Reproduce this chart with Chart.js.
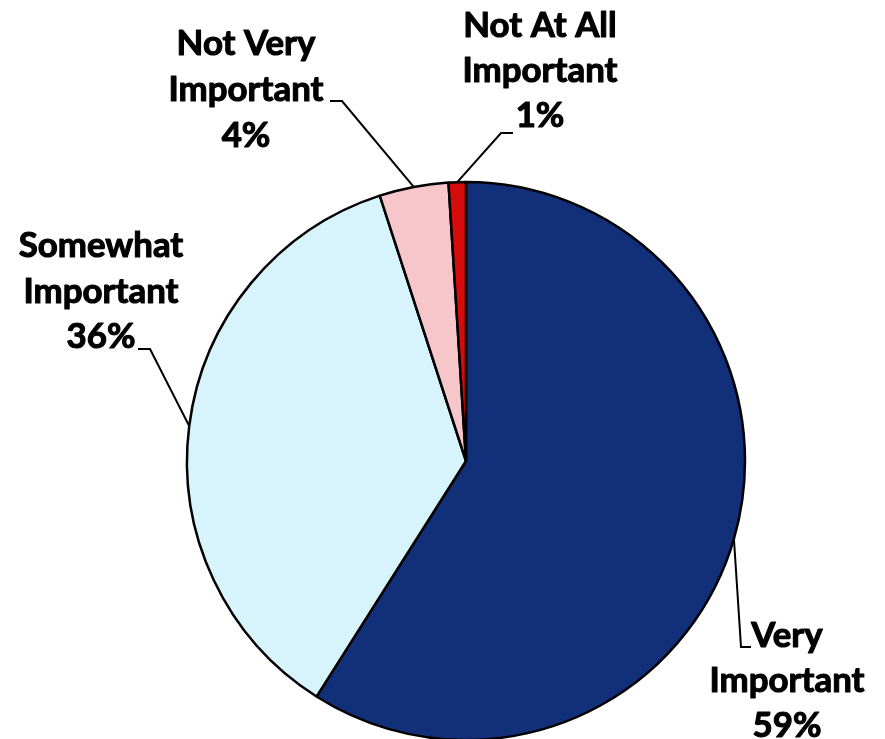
<!DOCTYPE html>
<html>
<head>
<meta charset="utf-8">
<script src="https://cdn.jsdelivr.net/npm/chart.js@4/dist/chart.umd.min.js"></script>
<style>
  html, body { margin: 0; padding: 0; background: #ffffff; }
  #wrap { width: 885px; height: 739px; position: relative; }
</style>
</head>
<body>
<div id="wrap"><canvas id="c" width="885" height="739"></canvas></div>
<script>
// ---- data ----
const categories = ['Very Important', 'Somewhat Important', 'Not Very Important', 'Not At All Important'];
const labelLines = [['Very', 'Important'], ['Somewhat', 'Important'], ['Not Very', 'Important'], ['Not At All', 'Important']];
const values = [59, 36, 4, 1];

// ---- styles ----
const sliceColors = [
  ['#1c3f8e', '#12307a', '#0a2156'],
  ['#e8fafe', '#d7f4fc', '#c3ebf6'],
  ['#fcdde0', '#f7c6cb', '#eeb3b9'],
  ['#e81a1a', '#d60b0b', '#a80606']
];
// label layout: center x of text, first baseline, elbow point, end of leader
const labelLayout = [
  { cx: 787, y0: 647, lh: 45, elbow: [741, 647], end: [751, 647] },
  { cx: 101, y0: 257, lh: 45.5, elbow: [150, 349], end: [138, 349] },
  { cx: 246, y0: 55, lh: 46, elbow: [342, 101], end: [330, 101] },
  { cx: 540, y0: 37, lh: 45, elbow: [501, 133], end: [513, 133] }
];
const FONT_FAMILY = 'Lato, "Open Sans", "DejaVu Sans", sans-serif';
const FONT_WEIGHT = 'bold';

function fontSizeFor(ctx) {
  ctx.save();
  ctx.font = FONT_WEIGHT + ' 100px ' + FONT_FAMILY;
  const w = ctx.measureText('Important').width;
  ctx.restore();
  return 100 * 155 / w;
}

function sliceFill(context) {
  const i = context.dataIndex;
  const chart = context.chart;
  const area = chart.chartArea;
  const cols = sliceColors[i];
  if (!area) return cols[1];
  const meta = chart.getDatasetMeta(0);
  const arc = meta.data[i];
  if (!arc || !arc.outerRadius) return cols[1];
  const g = chart.ctx.createRadialGradient(arc.x, arc.y, 0, arc.x, arc.y, arc.outerRadius);
  g.addColorStop(0, cols[0]);
  g.addColorStop(0.55, cols[1]);
  g.addColorStop(0.93, cols[1]);
  g.addColorStop(1, cols[2]);
  return g;
}

const labelPlugin = {
  id: 'calloutLabels',
  afterDatasetsDraw(chart) {
    const ctx = chart.ctx;
    const meta = chart.getDatasetMeta(0);
    const fs = fontSizeFor(ctx);
    meta.data.forEach((arc, i) => {
      const p = arc.getProps(['x', 'y', 'startAngle', 'endAngle', 'outerRadius'], true);
      const mid = (p.startAngle + p.endAngle) / 2;
      const ex = p.x + Math.cos(mid) * p.outerRadius;
      const ey = p.y + Math.sin(mid) * p.outerRadius;
      const L = labelLayout[i];
      ctx.save();
      ctx.strokeStyle = '#000';
      ctx.lineWidth = 2;
      ctx.beginPath();
      ctx.moveTo(ex, ey);
      ctx.lineTo(L.elbow[0], L.elbow[1]);
      ctx.lineTo(L.end[0], L.end[1]);
      ctx.stroke();
      ctx.fillStyle = '#000';
      ctx.lineWidth = 1.1;
      ctx.lineJoin = 'round';
      ctx.font = FONT_WEIGHT + ' ' + fs.toFixed(2) + 'px ' + FONT_FAMILY;
      ctx.textAlign = 'center';
      ctx.textBaseline = 'alphabetic';
      const lines = labelLines[i].concat([values[i] + '%']);
      lines.forEach((t, k) => {
        ctx.fillText(t, L.cx, L.y0 + k * L.lh);
        ctx.strokeText(t, L.cx, L.y0 + k * L.lh);
      });
      ctx.restore();
    });
  }
};

new Chart(document.getElementById('c'), {
  type: 'pie',
  data: {
    labels: categories,
    datasets: [{
      data: values,
      backgroundColor: sliceFill,
      borderColor: '#000000',
      borderWidth: 2.5,
      borderAlign: 'center'
    }]
  },
  options: {
    responsive: false,
    animation: false,
    radius: 279,
    layout: { padding: { left: 47, right: 0, top: 183, bottom: 0 } },
    plugins: {
      legend: { display: false },
      tooltip: { enabled: false }
    }
  },
  plugins: [labelPlugin]
});
</script>
</body>
</html>
